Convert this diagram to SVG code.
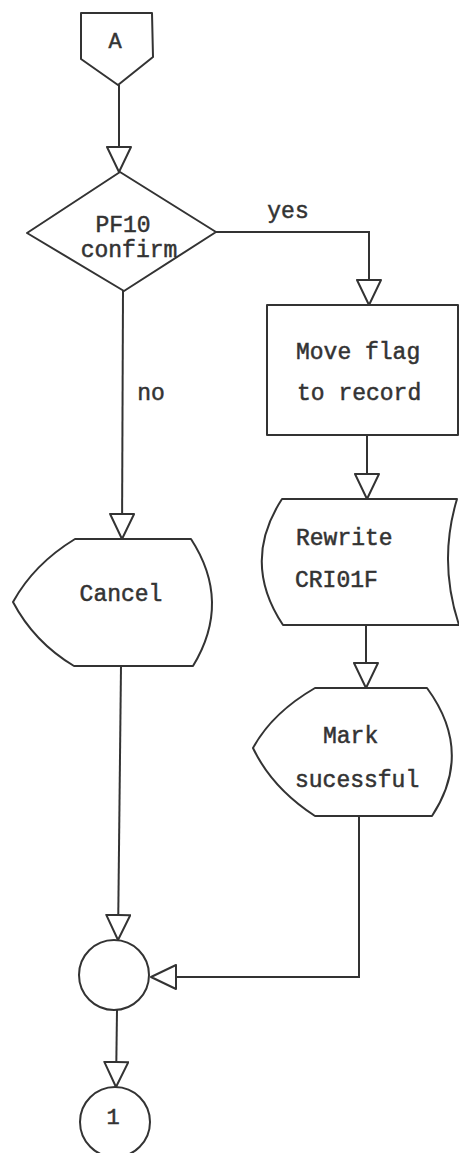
<svg xmlns="http://www.w3.org/2000/svg" width="459" height="1153" viewBox="0 0 459 1153">
<style>
.shape{fill:#fff;stroke:#333;stroke-width:2;stroke-linejoin:round}
.conn{fill:none;stroke:#333;stroke-width:2}
.t{font-family:"Liberation Mono","Courier New",monospace;font-size:23px;fill:#333;stroke:#333;stroke-width:0.5}
.s{font-size:22px}
.m{text-anchor:middle}
</style>
<defs>
<marker id="arr" viewBox="0 0 28 26" refX="26" refY="13" markerWidth="28" markerHeight="26" markerUnits="userSpaceOnUse" orient="auto">
<path d="M1,1 L26,13 L1,25 Z" fill="#fff" stroke="#333" stroke-width="2" stroke-linejoin="round"/>
</marker>
</defs>
<rect width="459" height="1153" fill="#fff"/>
<g id="connectors">
<path class="conn" d="M119,85 L119,172" marker-end="url(#arr)"/>
<path class="conn" d="M216,232 L369,232 L369,305" marker-end="url(#arr)"/>
<path class="conn" d="M123,291 L122,539" marker-end="url(#arr)"/>
<path class="conn" d="M367,435 L367,499" marker-end="url(#arr)"/>
<path class="conn" d="M366,625 L366,688" marker-end="url(#arr)"/>
<path class="conn" d="M121,666 L118,940" marker-end="url(#arr)"/>
<path class="conn" d="M359,816 L359,977 L151,977" marker-end="url(#arr)"/>
<path class="conn" d="M117,1010 L116,1087" marker-end="url(#arr)"/>
<text class="t m" x="288" y="218">yes</text>
<text class="t m" x="151" y="400">no</text>
</g>
<g id="start-A">
<path class="shape" d="M81,13 L152,13 L153,57 L118,85 L81,59 Z"/>
<text class="t s m" x="115" y="48">A</text>
</g>
<g id="decision-pf10">
<path class="shape" d="M120,172 L216,232 L124,291 L27,233 Z"/>
<text class="t m" x="123" y="232">PF10</text>
<text class="t m" x="129" y="257">confirm</text>
</g>
<g id="move-flag">
<rect class="shape" x="267" y="305" width="191" height="130"/>
<text class="t" x="296" y="359">Move flag</text>
<text class="t" x="297" y="400">to record</text>
</g>
<g id="rewrite">
<path class="shape" d="M282,499 L457,499 Q438,562 459,625 L283,625 Q241,562 282,499 Z"/>
<text class="t" x="296" y="545">Rewrite</text>
<text class="t" x="295" y="587">CRI01F</text>
</g>
<g id="cancel">
<path class="shape" d="M75,539 L191,539 Q232,602 193,666 L74,666 Q34,642 13,602 Q34,564 75,539 Z"/>
<text class="t m" x="121" y="601">Cancel</text>
</g>
<g id="mark">
<path class="shape" d="M315,688 L427,688 Q474,752 432,816 L315,816 Q272,788 253,748 Q272,713 315,688 Z"/>
<text class="t" x="323" y="743">Mark</text>
<text class="t" x="295" y="787">sucessful</text>
</g>
<g id="merge">
<circle class="shape" cx="114" cy="975" r="35"/>
</g>
<g id="connector-1">
<circle class="shape" cx="115" cy="1122" r="35"/>
<text class="t s m" x="113" y="1124">1</text>
</g>
</svg>
